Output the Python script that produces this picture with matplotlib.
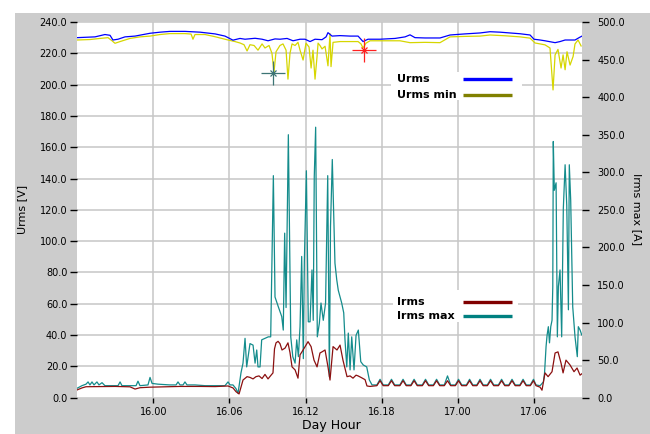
import matplotlib
matplotlib.use('Agg')
import matplotlib.pyplot as plt
from matplotlib.patches import Rectangle
from matplotlib.lines import Line2D

# ---------------- data (time in hours from day 15, 18:00) ----------------
xtick_hours = [6, 12, 18, 24, 30, 36]
xtick_labels = ['16.00', '16.06', '16.12', '16.18', '17.00', '17.06']

t_urms = [0.00, 1.42, 2.20, 2.60, 2.83, 3.23, 3.78, 4.57, 5.75, 6.54, 7.32, 8.50, 9.69, 10.87, 11.65,
          12.28, 12.83, 13.23, 14.02, 14.57, 15.04, 15.59, 15.98, 16.54, 17.01, 17.56, 17.95, 18.35,
          18.74, 19.29, 19.61, 19.76, 20.08, 20.71, 21.50, 22.13, 22.52, 22.91, 23.86, 25.04, 25.83,
          26.22, 26.61, 27.40, 28.58, 29.37, 30.55, 31.73, 32.52, 33.31, 34.09, 34.88, 35.67, 35.98,
          36.46, 36.85, 37.64, 38.03, 38.43, 39.21, 39.53, 39.76]
urms = [230, 230.5, 232, 231.5, 228.5, 229, 230.5, 231, 232.8, 233.5, 234, 234, 233.5, 232.4, 231,
        228.4, 229.5, 229, 229.6, 229, 228, 229.2, 229, 229.5, 228, 229, 229, 227.5, 229, 228.7, 230.5,
        233.2, 231, 231.3, 231, 231, 227.5, 229, 229, 229.5, 230.5, 231.8, 230, 229.8, 229.8, 231.7,
        232.4, 233, 233.8, 233.5, 233, 232.5, 231.7, 229, 228.5, 228, 226.8, 227.5, 228.5, 228.5, 230, 231]

t_urms_min = [0.00, 1.02, 1.81, 2.44, 2.76, 2.99, 3.39, 4.17, 4.96, 5.75, 6.54, 7.32, 8.50, 8.98, 9.13,
              9.29, 10.08, 10.87, 11.89, 12.44, 12.83, 13.15, 13.39, 13.62, 13.94, 14.25, 14.57, 14.80,
              15.12, 15.35, 15.51, 15.67, 15.98, 16.22, 16.46, 16.61, 16.77, 16.93, 17.17, 17.40, 17.56,
              17.80, 18.03, 18.27, 18.43, 18.58, 18.74, 18.90, 18.98, 19.13, 19.29, 19.53, 19.76, 19.92,
              20.00, 20.16, 20.71, 21.50, 22.13, 22.36, 22.52, 22.76, 23.07, 24.25, 25.43, 26.22, 27.40,
              28.58, 29.37, 30.55, 31.73, 32.52, 33.70, 34.88, 35.67, 36.06, 36.46, 36.85, 37.24, 37.48,
              37.64, 37.87, 38.11, 38.27, 38.43, 38.58, 38.82, 39.06, 39.21, 39.45, 39.69]
urms_min = [228.5, 228.8, 229.5, 230, 228, 226.4, 227.5, 229.5, 230.5, 231, 232, 232.6, 232.6, 232.3, 229,
            232, 232, 230.6, 228.5, 227.5, 226.6, 225.5, 221.5, 225.5, 225, 222, 226, 223.4, 225, 220,
            208, 221, 225, 226, 222, 203.5, 220, 226, 225, 227, 222, 215.7, 226.5, 224, 210.6, 222,
            203.5, 218, 226.5, 225, 222.8, 224.5, 212, 232.5, 211.5, 227, 227.5, 227.5, 227.5, 226,
            223.4, 226.5, 228, 228, 228, 226.8, 227, 226.8, 230.5, 230.8, 231, 231.7, 231.2, 230.5,
            229.7, 226.6, 226, 225.4, 223.4, 196.6, 219, 222.5, 210.6, 219, 209.5, 221, 212.5, 218,
            226, 228.5, 224.7]

t_irms = [0.00, 0.39, 0.71, 1.81, 2.99, 4.17, 4.57, 4.96, 5.75, 6.93, 8.11, 9.69, 10.87, 11.89, 12.28,
          12.52, 12.76, 13.07, 13.39, 13.62, 13.86, 14.09, 14.33, 14.57, 14.80, 15.04, 15.28, 15.43,
          15.55, 15.67, 15.83, 15.98, 16.14, 16.38, 16.61, 16.77, 16.93, 17.17, 17.40, 17.56, 17.80,
          18.03, 18.19, 18.43, 18.66, 18.90, 19.13, 19.29, 19.53, 19.76, 19.92, 20.16, 20.47, 20.71,
          20.94, 21.26, 21.50, 21.73, 21.97, 22.13, 22.36, 22.68, 22.83, 23.07,
          23.61, 23.86, 24.11, 24.51, 24.76, 25.01, 25.42, 25.67, 25.92, 26.29, 26.54, 26.79,
          27.19, 27.44, 27.69, 28.06, 28.31, 28.56, 28.92, 29.17, 29.42, 29.79, 30.04, 30.29,
          30.66, 30.91, 31.16, 31.48, 31.73, 31.98, 32.31, 32.56, 32.81, 33.18, 33.43, 33.68,
          34.00, 34.25, 34.50, 34.87, 35.12, 35.37, 35.69, 35.94,
          36.14, 36.46, 36.61, 36.85, 37.09, 37.40, 37.64, 37.87, 38.11, 38.27, 38.50, 38.82, 39.13,
          39.37, 39.61, 39.76]
irms = [10.3, 13, 14.6, 14.8, 15, 14.5, 11.5, 13.3, 14, 14.5, 15, 15, 14.8, 15.6, 13, 8, 5, 23.5, 28,
        27, 25, 28, 29, 25.5, 31, 25, 30, 33, 65, 73, 75, 72, 63.5, 66, 73, 60, 41, 37, 26, 57, 63.5,
        70, 74.6, 68, 50, 41, 59.5, 61, 63.5, 41, 23.5, 68, 63.5, 70, 50, 28, 29, 26, 30, 29, 27, 24,
        15.6, 15,
        16, 22.6, 16, 16, 22.6, 16, 16, 22.6, 16, 16, 22.6, 16,
        16, 22.6, 16, 16, 22.6, 16, 16, 22.6, 16, 16, 22.6, 16,
        16, 22.6, 16, 16, 22.6, 16, 16, 22.6, 16, 16, 22.6, 16,
        16, 22.6, 16, 16, 22.6, 16, 16, 22.6,
        16, 14, 10, 33, 28, 34.6, 59.5, 61, 46, 33, 50, 43.5, 34.6, 39.5, 30, 32]

t_irms_max = [0.00, 0.39, 0.71, 0.87, 1.02, 1.18, 1.34, 1.57, 1.73, 1.97,
              2.20, 3.23, 3.39, 3.54, 4.65, 4.80, 4.96, 5.59, 5.75, 5.91,
              6.38, 7.32, 7.80, 7.95, 8.11, 8.35, 8.50, 8.66, 9.29, 10.08,
              11.65, 11.89, 12.05, 12.28, 12.52, 12.68, 12.91, 13.07, 13.23, 13.36,
              13.62, 13.86, 14.02, 14.15, 14.25, 14.41, 14.54, 14.80, 15.06, 15.25,
              15.46, 15.59, 15.85, 16.12, 16.24, 16.35, 16.46, 16.64, 16.83, 16.99,
              17.17, 17.30, 17.43, 17.56, 17.69, 17.82, 17.90, 18.06, 18.21, 18.35,
              18.50, 18.60, 18.68, 18.79, 18.92, 19.08, 19.21, 19.39, 19.57, 19.74,
              19.87, 19.96, 20.10, 20.31, 20.45, 20.57, 20.84, 21.00, 21.10, 21.24,
              21.36, 21.50, 21.63, 21.81, 21.97, 22.15, 22.34, 22.54, 22.81, 23.02,
              23.23,
              23.61, 23.86, 24.11, 24.51, 24.76, 25.01, 25.42, 25.67, 25.92, 26.29, 26.54, 26.79,
              27.19, 27.44, 27.69, 28.06, 28.31, 28.56, 28.92, 29.17, 29.42, 29.79, 30.04, 30.29,
              30.66, 30.91, 31.16, 31.48, 31.73, 31.98, 32.31, 32.56, 32.81, 33.18, 33.43, 33.68,
              34.00, 34.25, 34.50, 34.87, 35.12, 35.37, 35.69, 35.94,
              36.14, 36.46, 36.72, 36.81, 36.93, 37.01, 37.11, 37.20, 37.30, 37.40,
              37.46, 37.50, 37.58, 37.72, 37.82, 37.90, 38.03, 38.16, 38.29, 38.43,
              38.56, 38.69, 38.76, 38.87, 39.03, 39.21, 39.39, 39.47, 39.61, 39.74]
irms_max = [12.5, 16, 18, 21, 17, 21, 17, 21, 17, 20,
            16, 16, 21, 16, 16, 22, 16, 17, 27, 19,
            18, 17, 17, 21, 17, 17, 21, 17, 17, 16,
            16, 21, 17, 17, 12, 6, 33, 46, 79, 41,
            72, 70, 46, 63.5, 41, 41, 77, 79, 81, 81,
            295.5, 134, 121, 108, 90, 219, 120, 350, 81, 54.6,
            46, 77, 54.6, 94.5, 188, 52, 181, 302, 101, 101,
            170, 103, 294, 360, 81, 99, 126, 103, 126, 295.5,
            28, 228, 317, 179, 157, 143, 126, 113, 77, 41,
            86, 37, 81, 37, 83, 90, 48, 43.5, 41, 23.5,
            17,
            17, 24.5, 17, 17, 24.5, 17, 17, 24.5, 17, 17, 24.5, 17,
            17, 24.5, 17, 17, 24.5, 17, 17, 29, 17, 17, 24.5, 17,
            17, 24.5, 17, 17, 24.5, 17, 17, 24.5, 17, 17, 24.5, 17,
            17, 24.5, 17, 17, 24.5, 17, 17, 24.5,
            17, 16, 21, 32.5, 68, 83, 94.5, 73, 94.5, 103,
            148, 341, 276, 286, 81, 148, 170, 81, 252, 310,
            256, 117, 310, 263, 121, 81, 54.6, 94.5, 90, 83.5]

cursor_t = [15.43, 22.60]
cursor_v = [207.5, 222.2]

# ---------------- figure ----------------
W, H = 650, 434
fig = plt.figure(figsize=(6.5, 4.34), dpi=100)
fig.patch.set_facecolor('white')
fig.patches.append(Rectangle((15 / W, 0), 1 - 15 / W, 1 - 13 / H, transform=fig.transFigure,
                             facecolor='#cccccc', edgecolor='none', zorder=-10))

ax = fig.add_axes([77 / W, 1 - 397.7 / H, 505 / W, 375.7 / H])
ax.set_facecolor('white')
ax2 = ax.twinx()

ax.set_xlim(0, 39.76)
ax.set_ylim(0, 240)
ax2.set_ylim(0, 500)

for a in (ax, ax2):
    for s in a.spines.values():
        s.set_visible(False)

ax.set_yticks(range(0, 241, 20))
ax.set_yticklabels(['%.1f' % v for v in range(0, 241, 20)])
ax2.set_yticks(range(0, 501, 50))
ax2.set_yticklabels(['%.1f' % v for v in range(0, 501, 50)])
ax.set_xticks(xtick_hours)
ax.set_xticklabels(xtick_labels)

ax.tick_params(axis='y', direction='out', length=5, width=1, pad=2, labelsize=7, colors='black')
ax.tick_params(axis='x', direction='out', length=3.5, width=1, pad=3, labelsize=7, colors='black')
ax2.tick_params(axis='y', direction='out', length=5, width=1, pad=6, labelsize=7, colors='black')

ax.grid(True, color='#c6c6c6', linewidth=1.1)
ax.set_axisbelow(True)

ax.plot(t_urms_min, urms_min, color='#d6d600', linewidth=0.9, zorder=2)
ax.plot(t_urms, urms, color='#0000ff', linewidth=0.9, zorder=3)

ax2.plot(t_irms_max, irms_max, color='#148c8c', linewidth=0.9, zorder=2)
ax2.plot(t_irms, irms, color='#8b1010', linewidth=0.9, zorder=3)

# cursors
ax.plot(cursor_t[:1], cursor_v[:1], marker='+', markersize=17, mew=0.9, color='#3c7474',
        linestyle='none', zorder=6)
ax.plot(cursor_t[:1], cursor_v[:1], marker='x', markersize=4, mew=0.9, color='#3c7474',
        linestyle='none', zorder=6)
ax.plot(cursor_t[1:], cursor_v[1:], marker='+', markersize=17, mew=0.9, color='#ff2020',
        linestyle='none', zorder=6)
ax.plot(cursor_t[1:], cursor_v[1:], marker='x', markersize=4, mew=0.9, color='#ff2020',
        linestyle='none', zorder=6)

# legends (manual, as in the original instrument software)
def legend_box(a, x0, x1, y0, y1, entries):
    a.add_patch(Rectangle((x0, y0), x1 - x0, y1 - y0, transform=a.transAxes,
                          facecolor='white', edgecolor='none', zorder=10))
    for (label, color, ty) in entries:
        a.text(0.634, ty, label, transform=a.transAxes, fontsize=8, fontweight='bold',
               ha='left', va='center', zorder=11, color='black')
        a.add_line(Line2D([0.765, 0.862], [ty, ty], transform=a.transAxes, color=color,
                          linewidth=2.4, solid_capstyle='butt', zorder=11))

legend_box(ax2, 0.622, 0.881, 0.792, 0.867,
           [('Urms', '#0000ff', 0.848), ('Urms min', '#808000', 0.807)])
legend_box(ax2, 0.626, 0.873, 0.2015, 0.2867,
           [('Irms', '#800000', 0.2555), ('Irms max', '#008080', 0.2175)])

fig.text(22 / W, 1 - 209 / H, 'Urms [V]', rotation=90, ha='center', va='center', fontsize=8)
fig.text(637 / W, 1 - 209 / H, 'Irms max [A]', rotation=270, ha='center', va='center', fontsize=8)
fig.text(331 / W, 1 - 419 / H, 'Day Hour', ha='center', va='top', fontsize=9)

fig.savefig('out.png', dpi=100, facecolor=fig.get_facecolor())
